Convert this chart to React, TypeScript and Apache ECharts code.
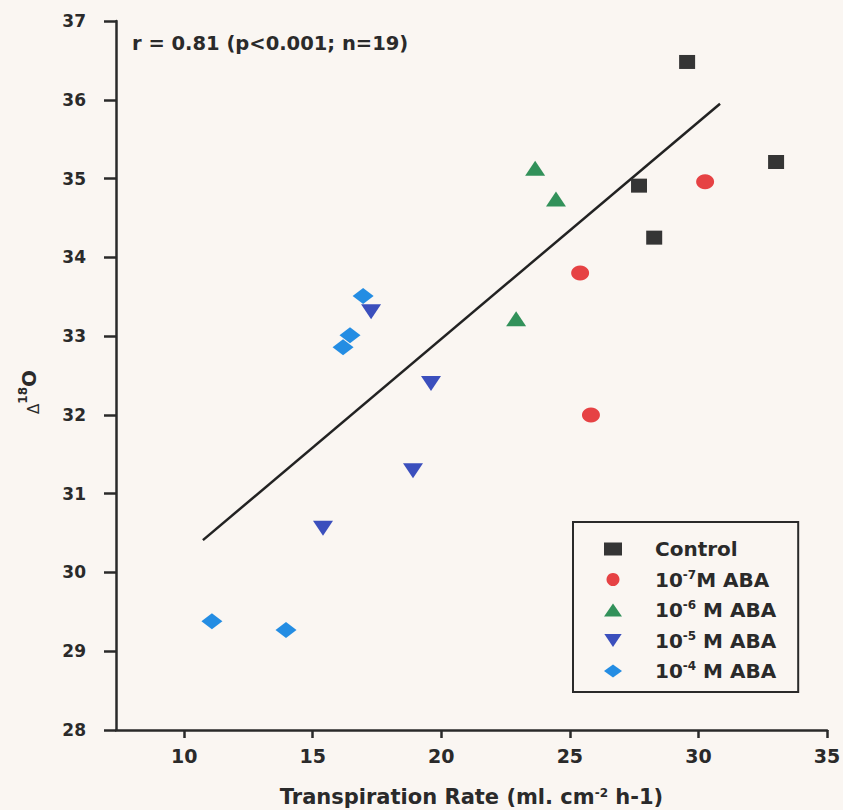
import React, { useEffect, useRef } from "react";
import * as echarts from "echarts";

// Transpiration rate (x) vs Δ18O (y)
const control = [
  [29.56, 36.48],
  [33.02, 35.21],
  [27.69, 34.91],
  [28.28, 34.25],
];
const aba7 = [
  [30.26, 34.96],
  [25.4, 33.8],
  [25.82, 32.0],
];
const aba6 = [
  [23.65, 35.13],
  [24.46, 34.74],
  [22.91, 33.22],
];
const aba5 = [
  [17.27, 33.31],
  [19.6, 32.4],
  [18.9, 31.29],
  [15.4, 30.56],
];
const aba4 = [
  [16.96, 33.51],
  [16.45, 33.01],
  [16.18, 32.86],
  [11.08, 29.38],
  [13.96, 29.27],
];
const fitLine = [
  [10.73, 30.41],
  [30.84, 35.95],
];
const seriesNames = ["Control", "10-7M ABA", "10-6 M ABA", "10-5 M ABA", "10-4 M ABA"];
const xTicks = [10, 15, 20, 25, 30, 35];
const annotation = "r = 0.81 (p<0.001; n=19)";

const FONT = "DejaVu Sans";
const INK = "#2a2a2a";
const DOWN_TRI = "path://M0,0 L20,0 L10,15 Z";

export default function App() {
  const ref = useRef<HTMLDivElement>(null);
  useEffect(() => {
    const chart = echarts.init(ref.current!, undefined, { renderer: "svg" });
    chart.setOption({
      animation: false,
      backgroundColor: "#faf6f2",
      grid: { left: 116, right: 16, top: 21, bottom: 80, containLabel: false, outerBoundsMode: "none" },
      xAxis: {
        type: "value",
        min: 7.35,
        max: 35,
        name: "Transpiration Rate (ml. cm{s|-2} h-1)",
        nameLocation: "middle",
        nameGap: 57,
        nameTextStyle: {
          fontFamily: FONT,
          fontWeight: "bold",
          fontSize: 21,
          color: INK,
          lineHeight: 20,
          rich: {
            s: { fontFamily: FONT, fontWeight: "bold", fontSize: 12, color: INK, verticalAlign: "top", lineHeight: 12 },
          },
        },
        axisLine: { show: true, lineStyle: { color: INK, width: 2.5 } },
        axisTick: { show: true, customValues: xTicks, length: 8, lineStyle: { color: INK, width: 2.5 } },
        axisLabel: {
          customValues: xTicks,
          margin: 16,
          fontFamily: FONT,
          fontWeight: "bold",
          fontSize: 19,
          color: INK,
        },
        splitLine: { show: false },
      },
      yAxis: {
        type: "value",
        min: 28,
        max: 37,
        interval: 1,
        axisLine: { show: true, lineStyle: { color: INK, width: 2.5 } },
        axisTick: { show: true, length: 12, lineStyle: { color: INK, width: 2.5 } },
        axisLabel: {
          margin: 30,
          fontFamily: FONT,
          fontWeight: "bold",
          fontSize: 17,
          color: INK,
        },
        splitLine: { show: false },
      },
      legend: {
        orient: "vertical",
        left: 573,
        top: 522,
        padding: [16, 22, 10, 31],
        itemGap: 8.5,
        itemWidth: 18,
        itemHeight: 13,
        borderColor: INK,
        borderWidth: 2,
        data: seriesNames.map((n, i) => (i === 3 ? { name: n, icon: DOWN_TRI } : { name: n })),
        formatter: (name: string) => {
          const m = name.match(/^10(-\d)(.*)$/);
          return m ? `{b|10}{s|${m[1]}}{b|${m[2]}}` : `{b|${name}}`;
        },
        textStyle: {
          padding: [0, 0, 0, 28],
          fontFamily: FONT,
          fontSize: 20,
          color: INK,
          lineHeight: 22,
          rich: {
            b: { fontFamily: FONT, fontWeight: "bold", fontSize: 20, color: INK, lineHeight: 22 },
            s: { fontFamily: FONT, fontWeight: "bold", fontSize: 12, color: INK, lineHeight: 12, verticalAlign: "top" },
          },
        },
      },
      graphic: [
        {
          type: "text",
          left: 132,
          top: 33,
          style: {
            text: annotation,
            fontFamily: FONT,
            fontWeight: "bold",
            fontSize: 19.5,
            fill: INK,
          },
        },
        {
          type: "text",
          x: 29,
          y: 392,
          rotation: Math.PI / 2,
          style: {
            text: "{d|Δ}{s|18}{o|O}",
            align: "center",
            verticalAlign: "middle",
            fill: INK,
            rich: {
              d: { fontFamily: FONT, fontSize: 15, fill: INK, lineHeight: 24, verticalAlign: "bottom" },
              s: { fontFamily: FONT, fontWeight: "bold", fontSize: 12, fill: INK, lineHeight: 12, verticalAlign: "top" },
              o: { fontFamily: FONT, fontWeight: "bold", fontSize: 20, fill: INK, lineHeight: 24 },
            },
          },
        },
      ],
      series: [
        {
          name: seriesNames[0],
          type: "scatter",
          data: control,
          symbol: "rect",
          symbolSize: [16, 14],
          itemStyle: { color: "#353535", opacity: 1 },
        },
        {
          name: seriesNames[1],
          type: "scatter",
          data: aba7,
          symbol: "circle",
          symbolSize: [18, 15],
          itemStyle: { color: "#e64244", opacity: 1 },
        },
        {
          name: seriesNames[2],
          type: "scatter",
          data: aba6,
          symbol: "triangle",
          symbolSize: [20, 15],
          itemStyle: { color: "#32915a", opacity: 1 },
        },
        {
          name: seriesNames[3],
          type: "scatter",
          data: aba5,
          symbol: "triangle",
          symbolRotate: 180,
          symbolSize: [20, 15],
          itemStyle: { color: "#3b4fbd", opacity: 1 },
        },
        {
          name: seriesNames[4],
          type: "scatter",
          data: aba4,
          symbol: "diamond",
          symbolSize: [21, 16],
          itemStyle: { color: "#248de3", opacity: 1 },
        },
        {
          name: "fit",
          type: "line",
          data: fitLine,
          showSymbol: false,
          symbol: "none",
          lineStyle: { color: "#222", width: 2.5 },
          z: 1,
        },
      ],
    });
    return () => chart.dispose();
  }, []);
  return (
    <div
      ref={ref}
      style={{ position: "fixed", left: 0, top: 0, width: 843, height: 810 }}
    />
  );
}
